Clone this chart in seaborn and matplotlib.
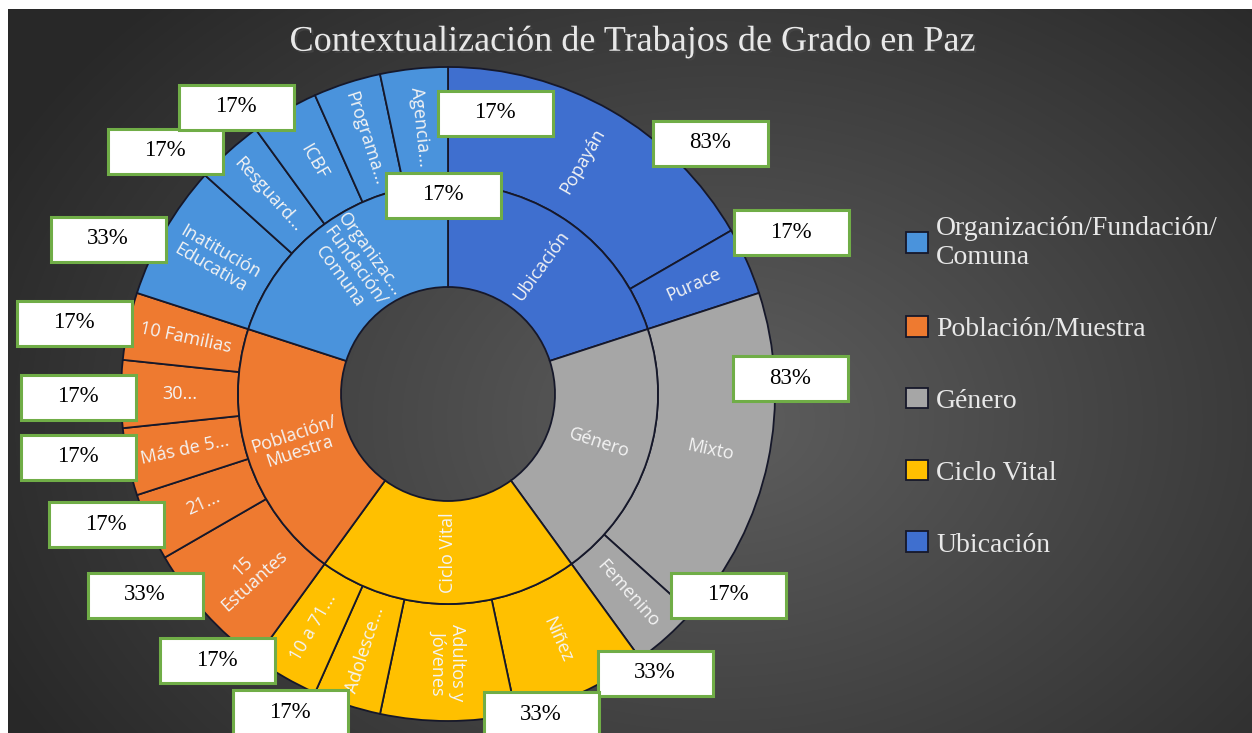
import numpy as np
import matplotlib
matplotlib.use("Agg")
import matplotlib.pyplot as plt
import matplotlib.patheffects as pe
from matplotlib.patches import Rectangle
import seaborn as sns

# data
group_names = ["Ubicación", "Género", "Ciclo Vital", "Población/Muestra",
               "Organización/Fundación/Comuna"]
group_ring_labels = ["Ubicación", "Género", "Ciclo Vital", "Población/\nMuestra",
                     "Organizac...\nFundación/\nComuna"]
group_legend_labels = ["Ubicación", "Género", "Ciclo Vital", "Población/Muestra",
                       "Organización/Fundación/\nComuna"]
group_colors = ["#3f6fcf", "#a6a6a6", "#ffc000", "#ee7a30", "#4a93dc"]

leaf_labels = ["Popayán", "Purace",
               "Mixto", "Femenino",
               "Niñez", "Adultos y\nJóvenes", "Adolesce...", "10 a 71...",
               "15\nEstuantes", "21...", "Más de 5...", "30...", "10 Familias",
               "Inatitución\nEducativa", "Resguard...", "ICBF", "Programa...", "Agencia..."]
leaf_parent = [0, 0, 1, 1, 2, 2, 2, 2, 3, 3, 3, 3, 3, 4, 4, 4, 4, 4]
leaf_values = [5, 1, 5, 1, 2, 2, 1, 1, 2, 1, 1, 1, 1, 2, 1, 1, 1, 1]

group_values = [sum(v for v, p in zip(leaf_values, leaf_parent) if p == g)
                for g in range(len(group_names))]
leaf_pct = [round(100 * v / group_values[p]) for v, p in zip(leaf_values, leaf_parent)]

# hand placed percentage call-outs (pixel centres, y from top)
pct_box_pos = [(710, 143), (791, 232), (790, 378), (728, 595),
               (655, 673), (541, 714), (290, 712), (217, 660),
               (145, 595), (106, 524), (78, 457), (78, 397), (74, 323),
               (108, 239), (165, 151), (236, 107), (443, 195), (495, 113)]

W, H = 1252, 733
sns.set_theme(style="dark")
plt.rcParams['font.family'] = ['Liberation Serif', 'DejaVu Serif']

fig = plt.figure(figsize=(W / 100, H / 100), dpi=100, facecolor="white")
ax = fig.add_axes([0, 0, 1, 1])

# dark radial background
yy, xx = np.mgrid[0:724, 0:1244]
d = np.hypot((xx + 8 - 720) / 760, (yy + 9 - 420) / 560)
shade = np.clip(0.37 - 0.2 * d, 0.16, 0.37)
bg = np.dstack([shade] * 3)
ax.imshow(bg, extent=(8, W, 0, H - 9), origin="upper", zorder=0, aspect="auto")

cx, cy = 448, H - 394
r_out, r_mid, r_in = 327, 210, 107
edge = dict(edgecolor="#16182a", linewidth=1.3)

leaf_colors = [group_colors[p] for p in leaf_parent]
outer, _ = ax.pie(leaf_values, colors=leaf_colors, radius=r_out, center=(cx, cy),
                  startangle=90, counterclock=False, frame=True,
                  wedgeprops=dict(width=r_out - r_mid, **edge))
inner, _ = ax.pie(group_values, colors=group_colors, radius=r_mid, center=(cx, cy),
                  startangle=90, counterclock=False, frame=True,
                  wedgeprops=dict(width=r_mid - r_in, **edge))

def ring_label(w, txt):
    th = (w.theta1 + w.theta2) / 2
    r = w.r - w.width / 2
    rot = ((th + 90) % 180) - 90
    ax.text(cx + r * np.cos(np.radians(th)), cy + r * np.sin(np.radians(th)), txt,
            rotation=rot, rotation_mode="anchor", ha="center", va="center",
            color="#f4f4f4", fontsize=13, family=["Open Sans", "DejaVu Sans"],
            linespacing=1.05, zorder=4)

for w, t in zip(outer, leaf_labels):
    ring_label(w, t)
for w, t in zip(inner, group_ring_labels):
    ring_label(w, t)

# percentage boxes
bw, bh = 115, 45
for (bx, by), p in zip(pct_box_pos, leaf_pct):
    ax.add_patch(Rectangle((bx - bw / 2, H - by - bh / 2), bw, bh, facecolor="white",
                           edgecolor="#70ad47", linewidth=2.2, zorder=5, clip_on=False))
    ax.text(bx, H - by, f"{p}%", ha="center", va="center", fontsize=16.5,
            color="black", zorder=6)

# title
ax.text(632, H - 42, "Contextualización de Trabajos de Grado en Paz", ha="center",
        va="center", fontsize=26, color="#e8e8e8",
        path_effects=[pe.withSimplePatchShadow(offset=(1.5, -1.5), alpha=0.8)])

# legend
order = [4, 3, 1, 2, 0]
leg = ax.legend([inner[i] for i in order], [group_legend_labels[i] for i in order],
                loc="upper left", bbox_to_anchor=(906, H - 216),
                bbox_transform=ax.transData, frameon=False, fontsize=20,
                handlelength=0.78, handleheight=0.78, handletextpad=0.3,
                labelspacing=1.65, borderpad=0, borderaxespad=0)
for t in leg.get_texts():
    t.set_color("#e8e8e8")
    t.set_linespacing(1.2)

ax.set_xlim(0, W)
ax.set_ylim(0, H)
ax.axis("off")
fig.savefig("out.png", dpi=100, facecolor="white")
